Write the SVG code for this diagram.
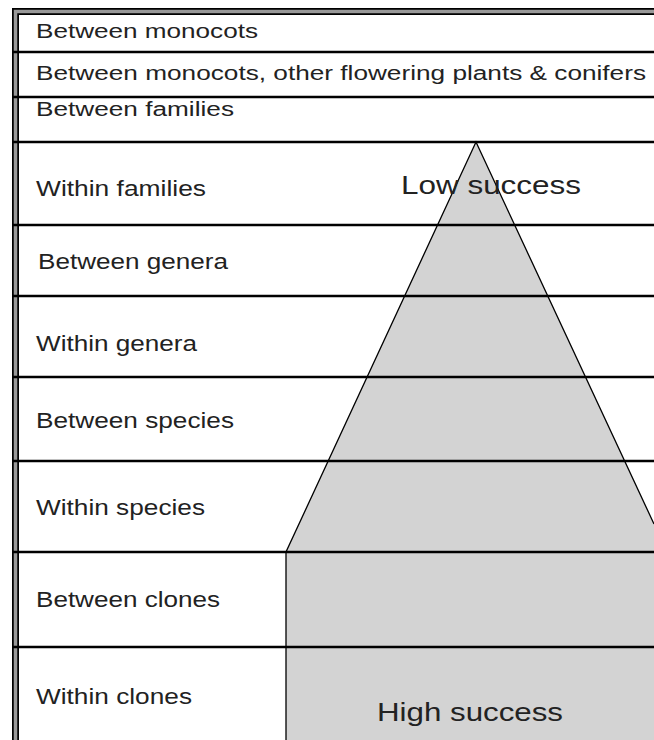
<svg xmlns="http://www.w3.org/2000/svg" width="654" height="740" viewBox="0 0 654 740">
<style>
.lbl{font-family:"Liberation Sans",Arial,sans-serif;fill:#222}
.sm{font-size:19.5px}
.md{font-size:21.5px}
.lg{font-size:25.5px}
.rule{stroke:#000;stroke-width:2.5;fill:none}
</style>
<rect x="0" y="0" width="654" height="740" fill="#fff"/>
<g id="pyramid">
<polygon points="476,142 286,552 286,740 654,740 654,524" fill="#d3d3d3" stroke="none"/>
<polyline points="286,740 286,552 476,142 654,524" fill="none" stroke="#000" stroke-width="1.3"/>
</g>
<g id="frame">
<path d="M654,11.5 H15.5 V740" fill="none" stroke="#000" stroke-width="7"/>
<path d="M654,11.5 H15.5 V740" fill="none" stroke="#999" stroke-width="3.5"/>
</g>
<g id="connectors">
<line class="rule" x1="13" y1="52" x2="654" y2="52"/>
<line class="rule" x1="13" y1="97" x2="654" y2="97"/>
<line class="rule" x1="13" y1="142" x2="654" y2="142"/>
<line class="rule" x1="13" y1="225" x2="654" y2="225"/>
<line class="rule" x1="13" y1="296" x2="654" y2="296"/>
<line class="rule" x1="13" y1="377" x2="654" y2="377"/>
<line class="rule" x1="13" y1="461" x2="654" y2="461"/>
<line class="rule" x1="13" y1="552" x2="654" y2="552"/>
<line class="rule" x1="13" y1="647" x2="654" y2="647"/>
</g>
<g id="row1"><text class="lbl sm" x="36" y="38" textLength="222" lengthAdjust="spacingAndGlyphs">Between monocots</text></g>
<g id="row2"><text class="lbl sm" x="36" y="80" textLength="610" lengthAdjust="spacingAndGlyphs">Between monocots, other flowering plants &amp; conifers</text></g>
<g id="row3"><text class="lbl sm" x="36" y="116" textLength="198" lengthAdjust="spacingAndGlyphs">Between families</text></g>
<g id="row4"><text class="lbl md" x="36" y="196" textLength="170" lengthAdjust="spacingAndGlyphs">Within families</text></g>
<g id="row5"><text class="lbl md" x="38" y="269" textLength="190" lengthAdjust="spacingAndGlyphs">Between genera</text></g>
<g id="row6"><text class="lbl md" x="36" y="351" textLength="161" lengthAdjust="spacingAndGlyphs">Within genera</text></g>
<g id="row7"><text class="lbl md" x="36" y="428" textLength="198" lengthAdjust="spacingAndGlyphs">Between species</text></g>
<g id="row8"><text class="lbl md" x="36" y="515" textLength="169" lengthAdjust="spacingAndGlyphs">Within species</text></g>
<g id="row9"><text class="lbl md" x="36" y="607" textLength="184" lengthAdjust="spacingAndGlyphs">Between clones</text></g>
<g id="row10"><text class="lbl md" x="36" y="704" textLength="156" lengthAdjust="spacingAndGlyphs">Within clones</text></g>
<g id="low"><text class="lbl lg" x="401" y="194" textLength="180" lengthAdjust="spacingAndGlyphs">Low success</text></g>
<g id="high"><text class="lbl lg" x="377" y="721" textLength="186" lengthAdjust="spacingAndGlyphs">High success</text></g>
</svg>
